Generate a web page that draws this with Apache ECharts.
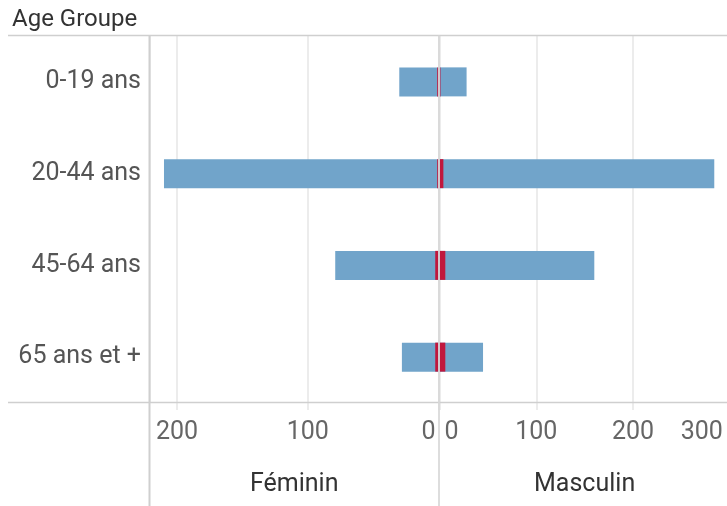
<!DOCTYPE html>
<html>
<head>
<meta charset="utf-8">
<script src="https://cdn.jsdelivr.net/npm/echarts@6/dist/echarts.min.js"></script>
<style>
  html, body { margin: 0; padding: 0; background: #fff; }
  #chart { width: 727px; height: 506px; }
</style>
</head>
<body>
<div id="chart"></div>
<script>
var categories = ['0-19 ans', '20-44 ans', '45-64 ans', '65 ans et +'];
var femaleTotal = [30, 210, 79, 28];
var maleTotal = [28, 284, 160, 45];
var femaleRed = [1, 1, 2.5, 2.5];
var maleRed = [1, 4, 6, 6];
var leftMax = 220.7;
var rightMax = 300;
var tickStep = 100;

var blue = '#71a4ca';
var red = '#c0173d';
var font = 'Roboto';

var chart = echarts.init(document.getElementById('chart'), null, { renderer: 'canvas' });

function catAxis(gridIndex, show) {
  return {
    type: 'category',
    gridIndex: gridIndex,
    data: categories,
    inverse: true,
    axisLine: { show: false },
    axisTick: { show: false },
    splitLine: { show: false },
    axisLabel: { show: show, margin: 9, fontSize: 25, color: '#555', fontFamily: font }
  };
}

chart.setOption({
  animation: false,
  title: {
    text: 'Age Groupe', left: 7, top: 3,
    textStyle: { fontSize: 24, fontWeight: 'normal', color: '#333', fontFamily: font }
  },
  grid: [
    { left: 150, width: 288.5, top: 36, height: 367, outerBoundsMode: 'none' },
    { left: 439.5, width: 290.25, top: 36, height: 367, outerBoundsMode: 'none' }
  ],
  xAxis: [
    {
      type: 'value', gridIndex: 0, inverse: true, min: 0, max: leftMax, interval: tickStep,
      axisLine: { show: false },
      axisTick: { show: true, length: 7, lineStyle: { color: '#ececec', width: 2 } },
      splitLine: { lineStyle: { color: '#ececec', width: 2 } },
      axisLabel: {
        margin: 17, fontSize: 25, color: '#666', fontFamily: font, showMaxLabel: false,
        formatter: function (v) { return v === 0 ? '{z|0}' : String(v); },
        rich: { z: { fontSize: 25, color: '#666', fontFamily: font, padding: [0, 20, 0, 0] } }
      },
      name: 'Féminin', nameLocation: 'middle', nameGap: 69,
      nameTextStyle: { fontSize: 25, color: '#333', fontFamily: font }
    },
    {
      type: 'value', gridIndex: 1, min: 0, max: rightMax, interval: tickStep,
      axisLine: { show: false },
      axisTick: { show: true, length: 7, lineStyle: { color: '#ececec', width: 2 } },
      splitLine: { lineStyle: { color: '#ececec', width: 2 } },
      axisLabel: {
        margin: 17, fontSize: 25, color: '#666', fontFamily: font,
        formatter: function (v) {
          if (v === 0) return '{z|0}';
          if (v === rightMax) return '{m|' + v + '}';
          return String(v);
        },
        rich: {
          z: { fontSize: 25, color: '#666', fontFamily: font, padding: [0, 0, 0, 24] },
          m: { fontSize: 25, color: '#666', fontFamily: font, padding: [0, 56, 0, 0] }
        }
      },
      name: 'Masculin', nameLocation: 'middle', nameGap: 69,
      nameTextStyle: { fontSize: 25, color: '#333', fontFamily: font }
    }
  ],
  yAxis: [catAxis(0, true), catAxis(1, false)],
  series: [
    { name: 'Féminin', type: 'bar', xAxisIndex: 0, yAxisIndex: 0, data: femaleTotal, barWidth: 29, barGap: '-100%', itemStyle: { color: blue } },
    { name: 'Féminin rouge', type: 'bar', xAxisIndex: 0, yAxisIndex: 0, data: femaleRed, barWidth: 29, barGap: '-100%', itemStyle: { color: red } },
    { name: 'Masculin', type: 'bar', xAxisIndex: 1, yAxisIndex: 1, data: maleTotal, barWidth: 29, barGap: '-100%', itemStyle: { color: blue } },
    { name: 'Masculin rouge', type: 'bar', xAxisIndex: 1, yAxisIndex: 1, data: maleRed, barWidth: 29, barGap: '-100%', itemStyle: { color: red } }
  ],
  graphic: [
    { type: 'line', z: 100, shape: { x1: 8, y1: 35.5, x2: 727, y2: 35.5 }, style: { stroke: '#cfcfcf', lineWidth: 1.5 } },
    { type: 'line', z: 100, shape: { x1: 8, y1: 402.5, x2: 727, y2: 402.5 }, style: { stroke: '#cfcfcf', lineWidth: 1.5 } },
    { type: 'line', z: 100, shape: { x1: 149.5, y1: 35.5, x2: 149.5, y2: 506 }, style: { stroke: '#cfcfcf', lineWidth: 2 } },
    { type: 'line', z: 100, shape: { x1: 439, y1: 35.5, x2: 439, y2: 506 }, style: { stroke: 'rgba(215,215,215,0.85)', lineWidth: 2 } }
  ]
});
</script>
</body>
</html>
